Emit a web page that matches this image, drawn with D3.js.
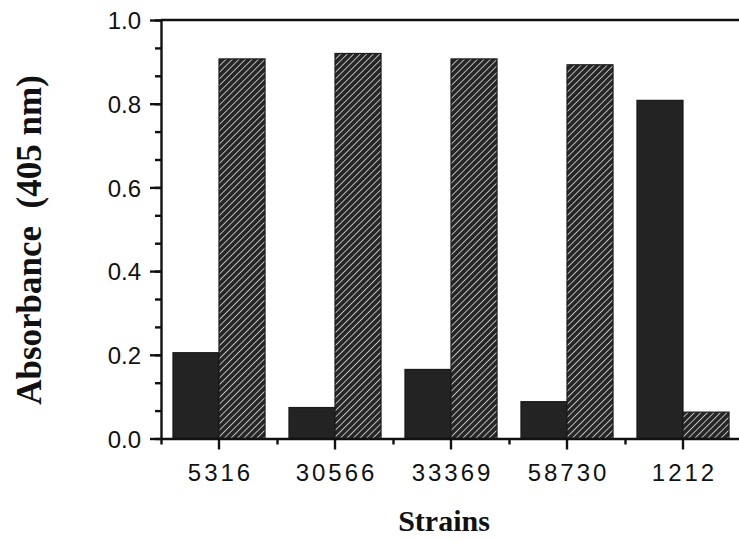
<html>
  <meta charset="utf-8">
  <head>
  <style>
    body {
      margin: 0;
      background: #fff;
    }
    svg {
      display: block;
    }
    .tick text {
      font-family: "Liberation Sans", Arial, sans-serif;
      font-size: 24px;
      fill: #111;
    }
  </style>
  </head>
  <body>
    <div id="elm"></div>

    <script src="https://d3js.org/d3.v7.min.js"></script>
    <script>

    'use strict';

    // values
    var strains = ['5316', '30566', '33369', '58730', '1212'];
    var solid = [0.205, 0.074, 0.165, 0.088, 0.808];
    var hatched = [0.907, 0.920, 0.907, 0.893, 0.063];
    var series = ['solid', 'hatched'];
    var yMajor = [0, 0.2, 0.4, 0.6, 0.8, 1.0];
    var yMinor = d3.range(0, 16).map(i => i / 15);

    var W = 739, H = 541;
    var plotLeft = 161, plotRight = 741, plotTop = 20, plotBottom = 438.5;

    var svg = d3.select('#elm').append('svg')
      .attr('width', W)
      .attr('height', H);

    var defs = svg.append('defs');
    var pat = defs.append('pattern')
      .attr('id', 'hatch')
      .attr('patternUnits', 'userSpaceOnUse')
      .attr('width', 4.6)
      .attr('height', 4.6)
      .attr('patternTransform', 'rotate(45)');
    pat.append('rect')
      .attr('width', 4.6).attr('height', 4.6)
      .attr('fill', '#262626');
    pat.append('line')
      .attr('x1', 0).attr('y1', 0)
      .attr('x2', 0).attr('y2', 4.6)
      .attr('stroke', '#dcdcdc')
      .attr('stroke-width', 1.6);

    var x = d3.scaleBand()
      .domain(strains)
      .range([plotLeft, plotRight])
      .padding(0);

    var xSub = d3.scaleBand()
      .domain(series)
      .range([0, x.bandwidth()])
      .paddingInner(0)
      .paddingOuter(0.26);

    var xEdge = d3.scaleLinear()
      .domain([0, strains.length])
      .range([plotLeft, plotRight]);

    var y = d3.scaleLinear()
      .domain([0, 1])
      .range([plotBottom, plotTop]);

    var rows = strains.map((s, i) => ({strain: s, solid: solid[i], hatched: hatched[i]}));

    // bars
    var g = svg.append('g');
    var grp = g.selectAll('g.grp')
      .data(rows)
      .enter().append('g')
      .attr('transform', d => 'translate(' + x(d.strain) + ',0)');

    grp.selectAll('rect')
      .data(d => series.map(k => ({key: k, value: d[k]})))
      .enter().append('rect')
      .attr('x', d => xSub(d.key))
      .attr('y', d => y(d.value))
      .attr('width', xSub.bandwidth())
      .attr('height', d => y(0) - y(d.value))
      .attr('fill', d => d.key === 'solid' ? '#232323' : 'url(#hatch)')
      .attr('stroke', '#1a1a1a')
      .attr('stroke-width', 1.2);

    // top frame line
    svg.append('line')
      .attr('x1', plotLeft).attr('x2', plotRight)
      .attr('y1', y(1)).attr('y2', y(1))
      .attr('stroke', '#111')
      .attr('stroke-width', 2.4);

    // y axis, minor ticks
    svg.append('g')
      .attr('transform', 'translate(' + plotLeft + ',0)')
      .call(d3.axisLeft(y).tickValues(yMinor).tickSize(6).tickSizeOuter(0).tickFormat(''))
      .call(s => s.selectAll('line').attr('stroke', '#111').attr('stroke-width', 2.4))
      .call(s => s.select('.domain').attr('stroke', '#111').attr('stroke-width', 2.4));

    // y axis, major ticks
    svg.append('g')
      .attr('transform', 'translate(' + plotLeft + ',0)')
      .call(d3.axisLeft(y).tickValues(yMajor).tickSize(11).tickSizeOuter(0).tickPadding(9).tickFormat(d3.format('.1f')))
      .call(s => s.select('.domain').remove())
      .call(s => s.selectAll('line').attr('stroke', '#111').attr('stroke-width', 2.4))
      .call(s => s.selectAll('text').attr('dy', '0.36em'));

    // x axis, boundary ticks
    svg.append('g')
      .attr('transform', 'translate(0,' + plotBottom + ')')
      .call(d3.axisBottom(xEdge).tickValues(d3.range(0, strains.length + 1)).tickSize(6).tickSizeOuter(0).tickFormat(''))
      .call(s => s.selectAll('line').attr('stroke', '#111').attr('stroke-width', 2.4))
      .call(s => s.select('.domain').attr('stroke', '#111').attr('stroke-width', 2.4));

    // x axis, category ticks and labels
    svg.append('g')
      .attr('transform', 'translate(0,' + plotBottom + ')')
      .call(d3.axisBottom(x).tickSize(11).tickSizeOuter(0).tickPadding(14))
      .call(s => s.select('.domain').remove())
      .call(s => s.selectAll('line').attr('stroke', '#111').attr('stroke-width', 2.4))
      .call(s => s.selectAll('text')
        .attr('letter-spacing', 3)
        .attr('dx', 1.5));

    // axis titles
    svg.append('text')
      .attr('x', 444)
      .attr('y', 531)
      .attr('text-anchor', 'middle')
      .attr('font-family', '"Liberation Serif", "Times New Roman", serif')
      .attr('font-weight', 'bold')
      .attr('font-size', 30)
      .attr('fill', '#111')
      .text('Strains');

    svg.append('text')
      .attr('transform', 'translate(41,240) rotate(-90)')
      .attr('text-anchor', 'middle')
      .attr('font-family', '"Liberation Serif", "Times New Roman", serif')
      .attr('font-weight', 'bold')
      .attr('font-size', 35)
      .attr('fill', '#111')
      .attr('xml:space', 'preserve')
      .text('Absorbance  (405 nm)');

    </script>
  </body>
</html>
